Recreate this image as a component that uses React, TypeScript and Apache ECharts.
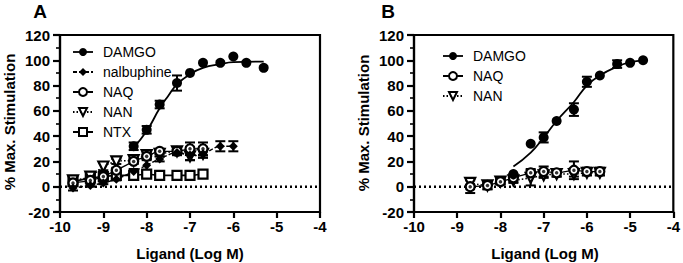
import React, { useEffect, useRef } from "react";
import * as echarts from "echarts";

// ---------- Data ----------
// Panel A
const xA_DAMGO = [-8.3, -8, -7.7, -7.3, -7, -6.7, -6.3, -6, -5.7, -5.3];
const yA_DAMGO = [32, 45, 65, 82, 90, 98, 98, 103, 98, 94];
const eA_DAMGO = [3, 3, 3, 6, 0, 0, 0, 0, 0, 0];
const xA_DAMGO_fit = [-8.3, -8, -7.7, -7.5, -7.3, -7, -6.7, -6.3, -6, -5.3];
const yA_DAMGO_fit = [31, 44, 62, 72, 81, 89, 94, 97, 98.5, 99];

const xA_NALB = [-9.7, -9.3, -9, -8.7, -8.3, -8, -7.7, -7.3, -7, -6.7, -6.3, -6];
const yA_NALB = [-1, 1, 3, 6, 12, 17, 22, 27, 25, 26, 32, 32];
const eA_NALB = [2, 1, 1, 1, 2, 5, 2, 2, 4, 3, 4, 4];

const xA_NAQ = [-9.7, -9.3, -9, -8.7, -8.3, -8, -7.7, -7.3, -7, -6.7];
const yA_NAQ = [3, 5, 8, 13, 20, 24, 28, 28, 30, 30];
const eA_NAQ = [2, 2, 2, 2, 2, 3, 2, 3, 5, 5];

const xA_NAN = [-9.7, -9.3, -9, -8.7, -8.3, -8, -7.7, -7.3, -7, -6.7];
const yA_NAN = [5, 8, 16, 20, 21, 25, 26, 28, 24, 26];
const eA_NAN = [2, 2, 3, 2, 2, 3, 2, 2, 3, 3];

const xA_NTX = [-9.7, -9.3, -9, -8.7, -8.3, -8, -7.7, -7.3, -7, -6.7];
const yA_NTX = [4, 7, 8, 9, 9, 10, 9, 9, 9, 10];
const eA_NTX = [2, 2, 2, 2, 1, 2, 1, 1, 2, 2];

// Panel B
const xB_DAMGO = [-7.7, -7.3, -7, -6.7, -6.3, -6, -5.7, -5.3, -5, -4.7];
const yB_DAMGO = [10, 34, 39, 52, 61, 83, 88, 97, 98, 100];
const eB_DAMGO = [0, 0, 4, 0, 5, 4, 0, 3, 0, 0];
const xB_DAMGO_fit = [-7.7, -7.3, -7, -6.7, -6.3, -6, -5.7, -5.3, -5, -4.7];
const yB_DAMGO_fit = [16, 27, 39, 52, 67, 80, 88, 95, 98.5, 100];

const xB_NAQ = [-8.7, -8.3, -8, -7.7, -7.3, -7, -6.7, -6.3, -6, -5.7];
const yB_NAQ = [0, 1, 4, 7, 11, 12, 11, 13, 12, 12];
const eB_NAQ = [5, 3, 2, 3, 3, 4, 3, 7, 3, 3];

const xB_NAN = [-8.7, -8.3, -8, -7.7, -7.3, -7, -6.7, -6.3, -6, -5.7];
const yB_NAN = [3, 1, 4, 5, 7, 9, 10, 10, 11, 11];
const eB_NAN = [3, 3, 2, 2, 6, 2, 2, 2, 2, 2];

const baselineX = [-10, -4];
const baselineY = [0, 0];

const xTicks = { min: -10, max: -4, interval: 1 };
const yTicks = { min: -20, max: 120, interval: 20 };

// ---------- Helpers ----------
const FONT = "Liberation Sans, Arial, Helvetica, sans-serif";
const zip = (xs: number[], ys: number[]) => xs.map((x, i) => [x, ys[i]]);
const errs = (xs: number[], ys: number[], es: number[]) =>
  xs
    .map((x, i) => [x, ys[i] - es[i], ys[i] + es[i]])
    .filter((_, i) => es[i] > 0);

function errorSeries(data: number[][], idx: number) {
  return {
    type: "custom",
    name: "err" + idx,
    xAxisIndex: idx,
    yAxisIndex: idx,
    z: 1,
    silent: true,
    encode: { x: 0, y: [1, 2] },
    data,
    renderItem: (_params: any, api: any) => {
      const x = api.value(0);
      const lo = api.value(1);
      const hi = api.value(2);
      const p1 = api.coord([x, hi]);
      const p2 = api.coord([x, lo]);
      const hw = 5;
      const st = { stroke: "#000", lineWidth: 2 };
      return {
        type: "group",
        children: [
          { type: "line", shape: { x1: p1[0], y1: p1[1], x2: p2[0], y2: p2[1] }, style: st },
          { type: "line", shape: { x1: p1[0] - hw, y1: p1[1], x2: p1[0] + hw, y2: p1[1] }, style: st },
          { type: "line", shape: { x1: p2[0] - hw, y1: p2[1], x2: p2[0] + hw, y2: p2[1] }, style: st },
        ],
      };
    },
  };
}

const styles: Record<string, any> = {
  DAMGO: {
    symbol: "circle",
    symbolSize: 10,
    itemStyle: { color: "#000", borderWidth: 0 },
    lineStyle: { width: 0, opacity: 0 },
  },
  nalbuphine: {
    symbol: "diamond",
    symbolSize: 9,
    itemStyle: { color: "#000", borderWidth: 0 },
    lineStyle: { color: "#000", width: 1.5, type: [4, 2] },
  },
  NAQ: {
    symbol: "circle",
    symbolSize: 9,
    itemStyle: { color: "#fff", borderColor: "#000", borderWidth: 2.2 },
    lineStyle: { color: "#000", width: 1.3 },
  },
  NAN: {
    symbol: "triangle",
    symbolRotate: 180,
    symbolSize: 10,
    itemStyle: { color: "#fff", borderColor: "#000", borderWidth: 2.2 },
    lineStyle: { color: "#000", width: 1.5, type: [1.5, 2] },
  },
  NTX: {
    symbol: "rect",
    symbolSize: 9,
    itemStyle: { color: "#fff", borderColor: "#000", borderWidth: 2.2 },
    lineStyle: { color: "#000", width: 1.6 },
  },
};

function pointSeries(name: string, data: number[][], idx: number) {
  return {
    type: "line",
    name,
    xAxisIndex: idx,
    yAxisIndex: idx,
    data,
    smooth: 0.3,
    z: 3,
    showSymbol: true,
    ...styles[name],
  };
}

// centre dots of the NAQ open circles
function dotSeries(data: number[][], idx: number) {
  return {
    type: "scatter",
    name: "NAQ dot " + idx,
    xAxisIndex: idx,
    yAxisIndex: idx,
    data,
    symbol: "circle",
    symbolSize: 3.5,
    z: 4,
    silent: true,
    itemStyle: { color: "#000" },
  };
}

function fitSeries(data: number[][], idx: number) {
  return {
    type: "line",
    name: "DAMGO fit " + idx,
    xAxisIndex: idx,
    yAxisIndex: idx,
    data,
    smooth: true,
    symbol: "none",
    z: 2,
    lineStyle: { color: "#000", width: 1.8 },
  };
}

function baseline(idx: number) {
  return {
    type: "line",
    name: "base" + idx,
    xAxisIndex: idx,
    yAxisIndex: idx,
    data: zip(baselineX, baselineY),
    symbol: "none",
    z: 1,
    lineStyle: { color: "#000", width: 2.4, type: [2, 3] },
  };
}

function xAxis(idx: number) {
  return {
    gridIndex: idx,
    type: "value",
    ...xTicks,
    axisLine: { onZero: false, lineStyle: { color: "#000", width: 2.2 } },
    axisTick: { length: 6, lineStyle: { color: "#000", width: 2.2 } },
    axisLabel: { color: "#000", fontWeight: "bold", fontSize: 15, fontFamily: FONT, margin: 7 },
    splitLine: { show: false },
  };
}

function yAxis(idx: number) {
  return {
    gridIndex: idx,
    type: "value",
    ...yTicks,
    axisLine: { show: true, onZero: false, lineStyle: { color: "#000", width: 2.2 } },
    axisTick: { show: true, length: 7, lineStyle: { color: "#000", width: 2.2 } },
    minorTick: { show: true, splitNumber: 2, length: 4, lineStyle: { color: "#000", width: 1.6 } },
    axisLabel: { color: "#000", fontWeight: "bold", fontSize: 15, fontFamily: FONT, margin: 10 },
    splitLine: { show: false },
    minorSplitLine: { show: false },
  };
}

const legendItem = (name: string) => {
  if (name === "DAMGO") return { name, lineStyle: { width: 1.8, opacity: 1, color: "#000" } };
  return { name };
};

function legend(names: string[], left: number, top: number) {
  return {
    orient: "vertical",
    left,
    top,
    itemWidth: 20,
    itemHeight: 10,
    itemGap: 6,
    selectedMode: false,
    textStyle: { fontSize: 14, fontFamily: FONT, color: "#000", padding: [0, 0, 0, 5] },
    data: names.map(legendItem),
  };
}

function textEl(text: string, x: number, y: number, size: number, rotate = 0) {
  return {
    type: "text",
    x,
    y,
    rotation: rotate,
    style: {
      text,
      fontSize: size,
      fontWeight: "bold",
      fontFamily: FONT,
      fill: "#000",
      align: "center",
      verticalAlign: "middle",
    },
  };
}

export default function App() {
  const ref = useRef<HTMLDivElement>(null);
  useEffect(() => {
    if (!ref.current) return;
    const chart = echarts.init(ref.current, undefined, { renderer: "svg" });
    const option: any = {
      animation: false,
      backgroundColor: "#fff",
      grid: [
        { left: 60, top: 35, width: 260, height: 177, show: true, borderColor: "#000", borderWidth: 2.2, backgroundColor: "transparent" },
        { left: 414, top: 35, width: 260, height: 177, show: true, borderColor: "#000", borderWidth: 2.2, backgroundColor: "transparent" },
      ],
      xAxis: [xAxis(0), xAxis(1)],
      yAxis: [yAxis(0), yAxis(1)],
      legend: [
        legend(["DAMGO", "nalbuphine", "NAQ", "NAN", "NTX"], 67, 40),
        legend(["DAMGO", "NAQ", "NAN"], 437, 44),
      ],
      graphic: [
        textEl("A", 40, 11, 19),
        textEl("B", 388, 11, 19),
        textEl("% Max. Stimulation", 9, 122, 15, Math.PI / 2),
        textEl("% Max. Stimulation", 363, 123, 15, Math.PI / 2),
        textEl("Ligand (Log M)", 190, 253, 15),
        textEl("Ligand (Log M)", 545, 253, 15),
      ],
      series: [
        baseline(0),
        baseline(1),
        errorSeries(
          [
            ...errs(xA_DAMGO, yA_DAMGO, eA_DAMGO),
            ...errs(xA_NALB, yA_NALB, eA_NALB),
            ...errs(xA_NAQ, yA_NAQ, eA_NAQ),
            ...errs(xA_NAN, yA_NAN, eA_NAN),
            ...errs(xA_NTX, yA_NTX, eA_NTX),
          ],
          0
        ),
        errorSeries(
          [
            ...errs(xB_DAMGO, yB_DAMGO, eB_DAMGO),
            ...errs(xB_NAQ, yB_NAQ, eB_NAQ),
            ...errs(xB_NAN, yB_NAN, eB_NAN),
          ],
          1
        ),
        fitSeries(zip(xA_DAMGO_fit, yA_DAMGO_fit), 0),
        fitSeries(zip(xB_DAMGO_fit, yB_DAMGO_fit), 1),
        pointSeries("NTX", zip(xA_NTX, yA_NTX), 0),
        pointSeries("NAN", zip(xA_NAN, yA_NAN), 0),
        pointSeries("NAQ", zip(xA_NAQ, yA_NAQ), 0),
        dotSeries(zip(xA_NAQ, yA_NAQ), 0),
        pointSeries("nalbuphine", zip(xA_NALB, yA_NALB), 0),
        pointSeries("DAMGO", zip(xA_DAMGO, yA_DAMGO), 0),
        pointSeries("NAN", zip(xB_NAN, yB_NAN), 1),
        pointSeries("NAQ", zip(xB_NAQ, yB_NAQ), 1),
        dotSeries(zip(xB_NAQ, yB_NAQ), 1),
        pointSeries("DAMGO", zip(xB_DAMGO, yB_DAMGO), 1),
      ],
    };
    chart.setOption(option);
    return () => chart.dispose();
  }, []);
  return (
    <div
      ref={ref}
      style={{ position: "fixed", left: 0, top: 0, width: 683, height: 263, background: "#fff" }}
    />
  );
}
